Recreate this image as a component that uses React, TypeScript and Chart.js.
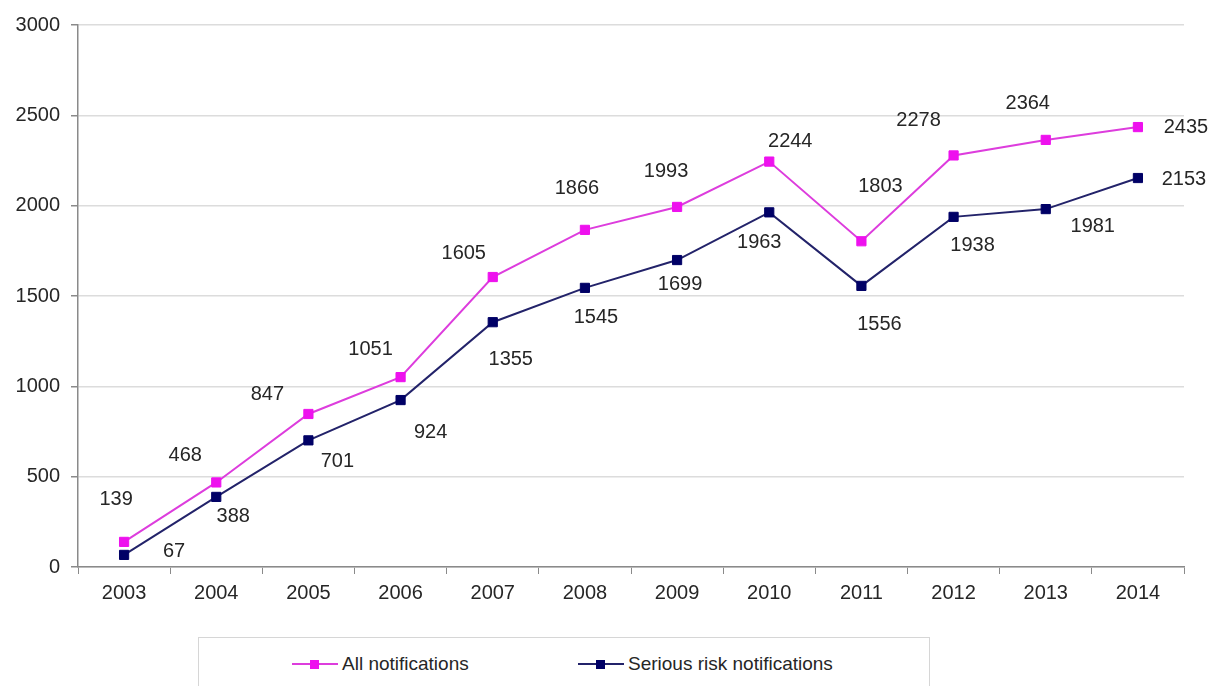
import React, { useEffect, useRef } from "react";
import { Chart, registerables } from "chart.js";

Chart.register(...registerables);

const years = ["2003", "2004", "2005", "2006", "2007", "2008", "2009", "2010", "2011", "2012", "2013", "2014"];
const allNotifications = [139, 468, 847, 1051, 1605, 1866, 1993, 2244, 1803, 2278, 2364, 2435];
const seriousRiskNotifications = [67, 388, 701, 924, 1355, 1545, 1699, 1963, 1556, 1938, 1981, 2153];
const yMin = 0;
const yMax = 3000;
const yStep = 500;

// label placement (style only): offset of each value label from its point
const allLabelOffsets = [
  [-8, -42], [-31, -27], [-41, -19], [-30, -28], [-29, -24], [-8, -41],
  [-11, -35], [21, -20], [19, -55], [-35, -35], [-18, -36], [48, 0],
];
const seriousLabelOffsets = [
  [50, -3], [17, 20], [29, 21], [30, 32], [18, 37], [11, 30],
  [3, 24], [-10, 30], [18, 39], [19, 29], [47, 17], [46, 1],
];

const FONT = '"Liberation Sans", Arial, sans-serif';
const TEXT = "#262626";
const MAGENTA_LINE = "#dd3ddd";
const MAGENTA_PT = "#ee11ee";
const NAVY_LINE = "#23236a";
const NAVY_PT = "#000066";

const valueLabels = {
  id: "valueLabels",
  afterDatasetsDraw(chart: any) {
    const ctx = chart.ctx;
    ctx.save();
    ctx.font = `20px ${FONT}`;
    ctx.fillStyle = TEXT;
    ctx.textAlign = "center";
    ctx.textBaseline = "middle";
    chart.data.datasets.forEach((ds: any, di: number) => {
      const meta = chart.getDatasetMeta(di);
      const offs = di === 0 ? allLabelOffsets : seriousLabelOffsets;
      meta.data.forEach((pt: any, i: number) => {
        ctx.fillText(String(ds.data[i]), pt.x + offs[i][0], pt.y + offs[i][1]);
      });
    });
    ctx.restore();
  },
};

function LegendItem({ left, color, lineColor, text }: { left: number; color: string; lineColor: string; text: string }) {
  return (
    <div style={{ position: "absolute", left, top: 14, height: 24, display: "flex", alignItems: "center" }}>
      <div style={{ position: "relative", width: 46, height: 24 }}>
        <div style={{ position: "absolute", left: 0, top: 11, width: 46, height: 2, background: lineColor }} />
        <div style={{ position: "absolute", left: 18, top: 7.5, width: 9, height: 9, background: color }} />
      </div>
      <span style={{ marginLeft: 4, font: `19px ${FONT}`, color: TEXT, whiteSpace: "nowrap" }}>{text}</span>
    </div>
  );
}

export default function App() {
  const canvasRef = useRef<HTMLCanvasElement | null>(null);

  useEffect(() => {
    if (!canvasRef.current) return;
    const chart = new Chart(canvasRef.current, {
      type: "line",
      data: {
        labels: years,
        datasets: [
          {
            label: "All notifications",
            data: allNotifications,
            borderColor: MAGENTA_LINE,
            borderWidth: 2,
            pointStyle: "rect",
            pointRadius: 6.5,
            pointBackgroundColor: MAGENTA_PT,
            pointBorderColor: MAGENTA_PT,
            pointBorderWidth: 1,
            tension: 0,
          },
          {
            label: "Serious risk notifications",
            data: seriousRiskNotifications,
            borderColor: NAVY_LINE,
            borderWidth: 2,
            pointStyle: "rect",
            pointRadius: 6.5,
            pointBackgroundColor: NAVY_PT,
            pointBorderColor: NAVY_PT,
            pointBorderWidth: 1,
            tension: 0,
          },
        ],
      },
      options: {
        animation: false,
        responsive: true,
        maintainAspectRatio: false,
        layout: { padding: { top: 25, right: 29, left: 0, bottom: 0 } },
        plugins: { legend: { display: false }, tooltip: { enabled: false } },
        scales: {
          x: {
            type: "category",
            offset: true,
            grid: { offset: true, drawOnChartArea: false, tickLength: 7, color: "#8a8a8a" },
            border: { color: "#8a8a8a", width: 1.5 },
            ticks: { font: { size: 20, family: FONT }, color: TEXT, padding: 7, maxRotation: 0 },
            afterFit: (s: any) => { s.height = 43; },
          },
          y: {
            min: yMin,
            max: yMax,
            ticks: {
              stepSize: yStep,
              font: { size: 20, family: FONT },
              color: TEXT,
              padding: 11,
              callback: (v: any) => String(v),
            },
            grid: { color: "#dcdcdc", tickColor: "#8a8a8a", tickLength: 7, lineWidth: 1.5 },
            border: { color: "#8a8a8a", width: 1.5 },
            afterFit: (s: any) => { s.width = 78; },
          },
        },
      },
      plugins: [valueLabels],
    } as any);
    return () => chart.destroy();
  }, []);

  return (
    <div style={{ position: "absolute", left: 0, top: 0, width: 1213, height: 686, overflow: "hidden", background: "#fff" }}>
      <div style={{ position: "absolute", left: 0, top: 0, width: 1213, height: 610 }}>
        <canvas ref={canvasRef} />
      </div>
      <div
        style={{
          position: "absolute",
          left: 198,
          top: 637,
          width: 732,
          height: 70,
          border: "1.5px solid #d6d6d6",
          boxSizing: "border-box",
        }}
      >
        <LegendItem left={93} color={MAGENTA_PT} lineColor={MAGENTA_LINE} text="All notifications" />
        <LegendItem left={379} color={NAVY_PT} lineColor={NAVY_LINE} text="Serious risk notifications" />
      </div>
    </div>
  );
}
